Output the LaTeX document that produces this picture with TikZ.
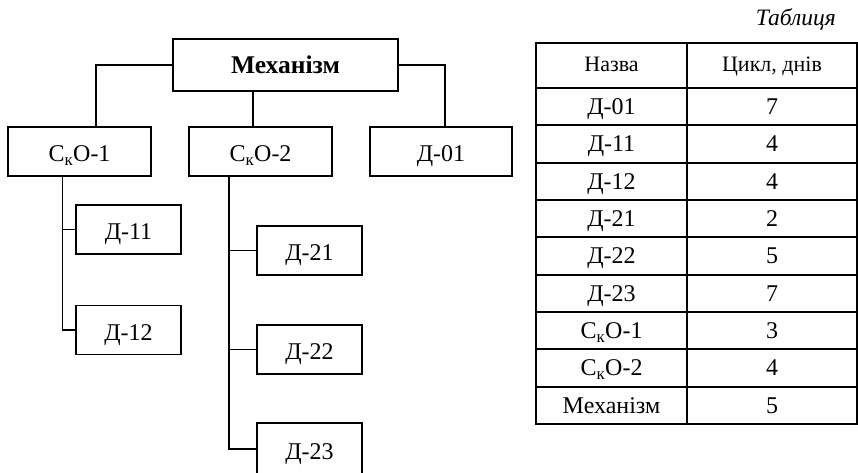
\documentclass[tikz,border=0pt]{standalone}
\usepackage{fontspec}
\setmainfont{Liberation Serif}
\begin{document}
\begin{tikzpicture}[x=1pt,y=-1pt,
  box/.style={draw,line width=1.3pt,minimum height=49pt,inner sep=0pt,
    text height=20.4pt,text depth=0pt,font=\fontsize{24}{28}\selectfont},
  link/.style={line width=1.3pt},
  grid/.style={line width=1.8pt},
  cell/.style={inner sep=0pt,text height=15.6pt,text depth=0pt,font=\fontsize{24}{28}\selectfont},
  head/.style={inner sep=0pt,text height=11.6pt,text depth=0pt,font=\fontsize{22}{26}\selectfont}]
\useasboundingbox (0,0) rectangle (858,472);

% tree of assemblies and parts
\node[box,minimum width=225pt,minimum height=52pt,text height=16.6pt,
  font=\fontsize{25.5}{30}\selectfont\bfseries] (mech) at (285.5,65) {Механізм};
\node[box,minimum width=143pt] (c1) at (79.5,151.5) {С\textsubscript{к}О-1};
\node[box,minimum width=143pt] (c2) at (260.5,151.5) {С\textsubscript{к}О-2};
\node[box,minimum width=142pt] (d01) at (441,151.5) {Д-01};
\node[box,minimum width=105pt] (d11) at (128.5,229.5) {Д-11};
\node[box,minimum width=105pt] (d12) at (128.5,330) {Д-12};
\node[box,minimum width=105pt] (d21) at (309.5,250.5) {Д-21};
\node[box,minimum width=105pt] (d22) at (309.5,349.5) {Д-22};
\node[box,minimum width=105pt,minimum height=52pt] (d23) at (309.5,449) {Д-23};

\draw[link] (mech.west) -| ([xshift=16.5pt]c1.north);
\draw[link] (mech.east) -| ([xshift=4pt]d01.north);
\draw[link] ([xshift=-7.5pt]c2.north) -- ([xshift=-7.5pt]c2.north |- mech.south);

\coordinate (t1) at ([xshift=-17pt]c1.south);
\draw[link] (t1) |- (d12.west);
\draw[link] (d11.west) -- (d11.west -| t1);

\coordinate (t2) at ([xshift=-31.5pt]c2.south);
\draw[link] (t2) |- (d23.west);
\draw[link] (d21.west) -- (d21.west -| t2);
\draw[link] (d22.west) -- (d22.west -| t2);

% table of cycle durations
\node[anchor=base east,inner sep=0pt,font=\fontsize{23.5}{27}\selectfont\itshape] (cap) at (836,25) {Таблиця};

\draw[grid] (536,43) rectangle (857,424);
\draw[grid] (687,43) -- (687,424);
\draw[grid] (536,88) -- (857,88);
\foreach \k in {1,...,8}
  \draw[grid] (536,{88+\k*37.333}) -- (857,{88+\k*37.333});

\node[head] (h1) at (611.5,65.5) {Назва};
\node[head] (h2) at (772,65.5) {Цикл, днів};

\foreach \n/\v [count=\i from 0] in {Д-01/7,Д-11/4,Д-12/4,Д-21/2,Д-22/5,Д-23/7,
    С\textsubscript{к}О-1/3,С\textsubscript{к}О-2/4,Механізм/5} {
  \node[cell] (n\i) at (611.5,{106.67+\i*37.333}) {\n};
  \node[cell] (v\i) at (772,{106.67+\i*37.333}) {\v};
}
\end{tikzpicture}
\end{document}
